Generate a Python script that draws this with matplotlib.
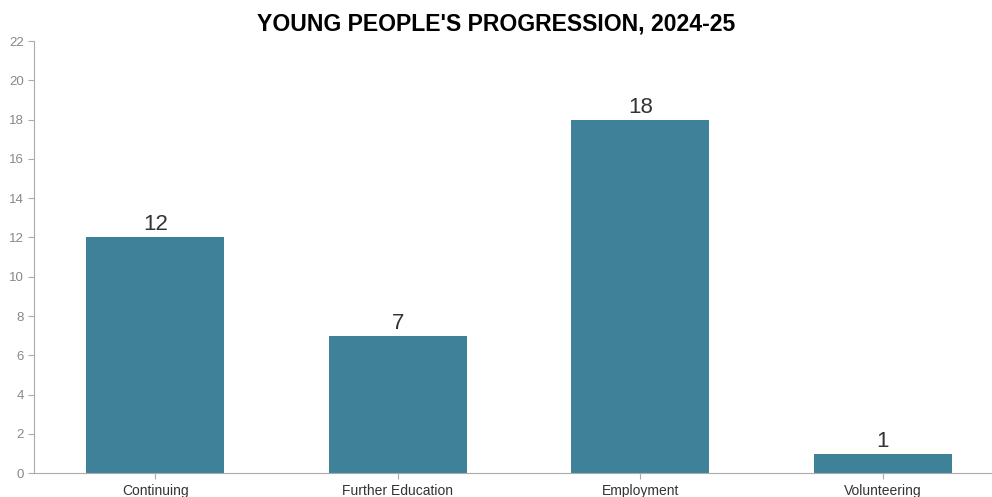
import matplotlib
matplotlib.use("Agg")
import matplotlib.pyplot as plt

categories = ["Continuing", "Further Education", "Employment", "Volunteering"]
counts = [12, 7, 18, 1]
yticks = list(range(0, 23, 2))

plt.rcParams["font.family"] = ["Liberation Sans", "DejaVu Sans"]

fig = plt.figure(figsize=(9.92, 4.97), dpi=100)
ax = fig.add_axes([0.0343, 0.048, 0.9657, 0.8695])

x = list(range(len(categories)))
bars = ax.bar(x, counts, width=0.57, color="#3f8199")
for b, v in zip(bars, counts):
    ax.text(b.get_x() + b.get_width() / 2, v + 0.1, str(v), ha="center", va="bottom",
            fontsize=16, color="#333333")

ax.set_xlim(-0.5, 3.45)
ax.set_ylim(0, 22)
ax.set_yticks(yticks)
ax.set_xticks(x)
ax.set_xticklabels(categories, fontsize=10, color="#333333")
ax.tick_params(axis="y", labelsize=9.5, colors="#888888", length=4, color="#aaaaaa")
ax.tick_params(axis="x", length=4, color="#aaaaaa", pad=4)
for s in ["top", "right"]:
    ax.spines[s].set_visible(False)
for s in ["left", "bottom"]:
    ax.spines[s].set_color("#aaaaaa")

fig.suptitle("YOUNG PEOPLE'S PROGRESSION, 2024-25", y=0.975, fontsize=16.6, fontweight="bold")

fig.savefig("out.png", dpi=100)
